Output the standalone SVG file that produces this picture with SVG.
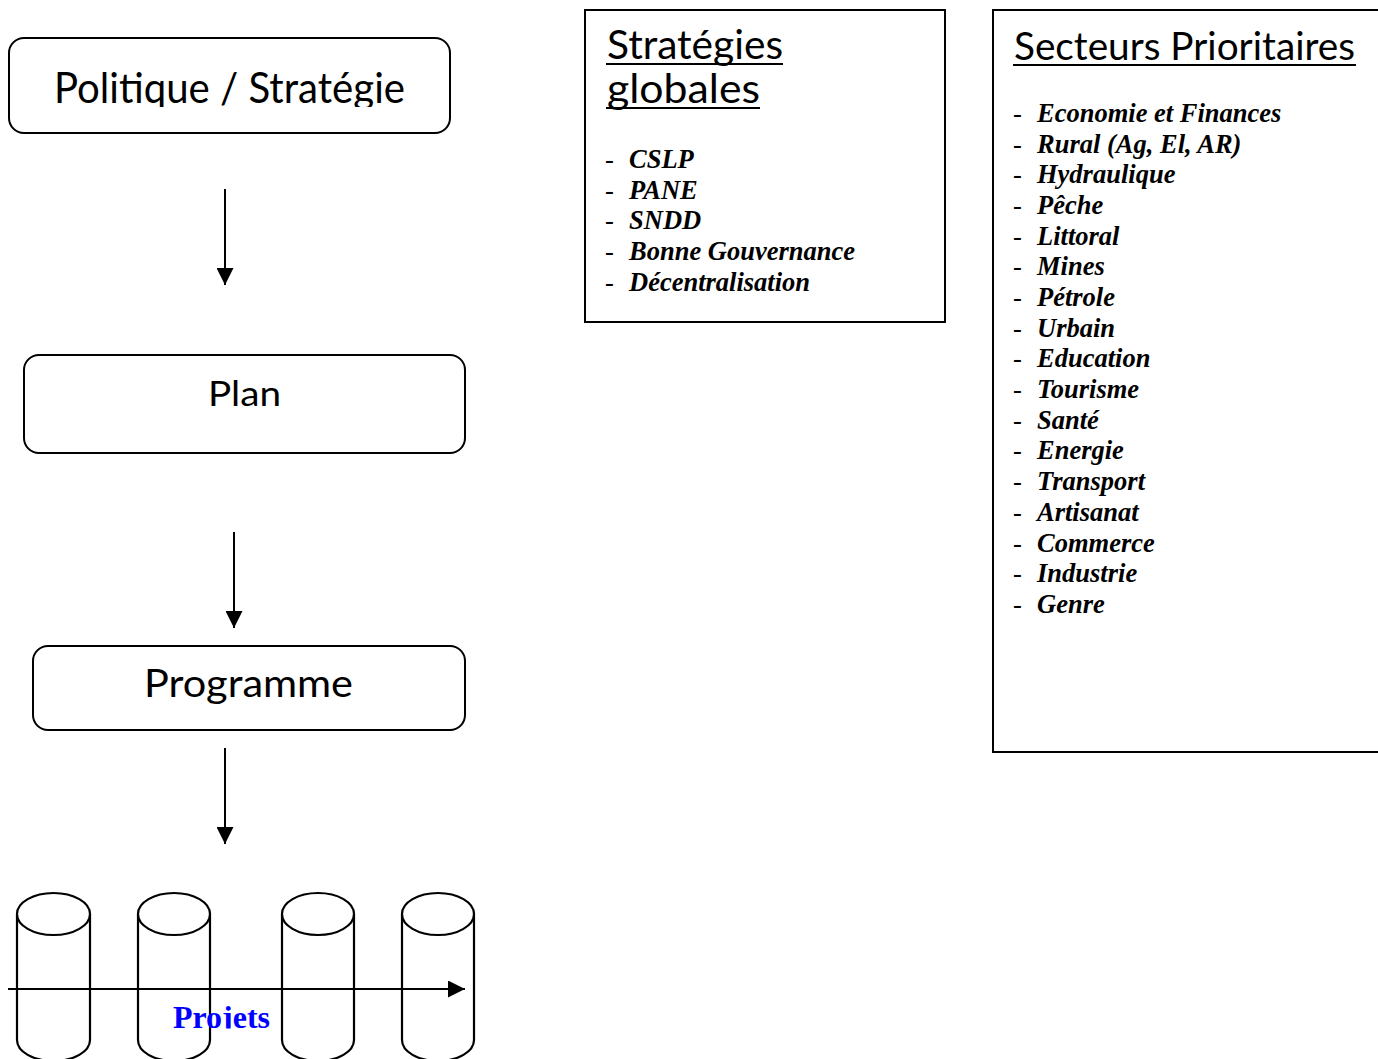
<svg xmlns="http://www.w3.org/2000/svg" width="1378" height="1059" viewBox="0 0 1378 1059">
<style>
.box{fill:#fff;stroke:#000;stroke-width:2}
.title{font-family:Lato,"Open Sans","DejaVu Sans",sans-serif;fill:#000}
.item{font-family:"Liberation Serif","Times New Roman",serif;font-weight:bold;font-style:italic;font-size:26.5px;fill:#000}
.dash{font-family:"Liberation Serif","Times New Roman",serif;font-size:26.5px;fill:#000}
.conn{stroke:#000;stroke-width:2;fill:none}
.cyl{stroke:#000;stroke-width:2.2;fill:none}
</style>
<defs>
<marker id="ah" viewBox="0 0 17 17" refX="17" refY="8.5" markerWidth="17" markerHeight="17" markerUnits="userSpaceOnUse" orient="auto">
<path d="M0,0 L17,8.5 L0,17 Z" fill="#000"/>
</marker>
<clipPath id="clipPol"><rect x="0" y="40" width="460" height="67"/></clipPath>
<clipPath id="clipProj"><rect x="150" y="990" width="150" height="38.5"/></clipPath>
</defs>
<rect width="1378" height="1059" fill="#fff"/>

<g id="node-politique">
<rect class="box" x="9" y="38" width="441" height="95" rx="15"/>
<text class="title" x="54" y="103" font-size="43" textLength="351" lengthAdjust="spacingAndGlyphs" clip-path="url(#clipPol)">Politique / Stratégie</text>
</g>

<g id="node-plan">
<rect class="box" x="24" y="355" width="441" height="98" rx="15"/>
<text class="title" x="208" y="406" font-size="35" textLength="73" lengthAdjust="spacingAndGlyphs">Plan</text>
</g>

<g id="node-programme">
<rect class="box" x="33" y="646" width="432" height="84" rx="15"/>
<text class="title" x="144" y="697" font-size="39" textLength="209" lengthAdjust="spacingAndGlyphs">Programme</text>
</g>

<g id="node-projets">
<g class="cyl">
<path d="M17,914 A36.5,21 0 0 1 90,914 A36.5,21 0 0 1 17,914 Z M17,914 V1040 A36.5,21 0 0 0 90,1040 V914"/>
<path d="M138,914 A36,21 0 0 1 210,914 A36,21 0 0 1 138,914 Z M138,914 V1040 A36,21 0 0 0 210,1040 V914"/>
<path d="M282,914 A36,21 0 0 1 354,914 A36,21 0 0 1 282,914 Z M282,914 V1040 A36,21 0 0 0 354,1040 V914"/>
<path d="M402,914 A36,21 0 0 1 474,914 A36,21 0 0 1 402,914 Z M402,914 V1040 A36,21 0 0 0 474,1040 V914"/>
</g>
<text x="173" y="1028" font-family="'Liberation Serif','Times New Roman',serif" font-weight="bold" font-size="32" fill="#0000FF" textLength="97" lengthAdjust="spacingAndGlyphs" clip-path="url(#clipProj)">Projets</text>
</g>

<g id="node-strategies">
<rect x="585" y="10" width="360" height="312" fill="#fff" stroke="#000" stroke-width="2"/>
<text class="title" x="607" y="59" font-size="40" textLength="176" lengthAdjust="spacingAndGlyphs">Stratégies</text>
<line x1="606" y1="64" x2="783" y2="64" stroke="#000" stroke-width="2"/>
<text class="title" x="607" y="103" font-size="40" textLength="153" lengthAdjust="spacingAndGlyphs">globales</text>
<line x1="606" y1="108" x2="760" y2="108" stroke="#000" stroke-width="2"/>
<g>
<text class="dash" x="605" y="168">-</text><text class="item" x="629" y="168">CSLP</text>
<text class="dash" x="605" y="199">-</text><text class="item" x="629" y="199">PANE</text>
<text class="dash" x="605" y="229">-</text><text class="item" x="629" y="229">SNDD</text>
<text class="dash" x="605" y="260">-</text><text class="item" x="629" y="260">Bonne Gouvernance</text>
<text class="dash" x="605" y="291">-</text><text class="item" x="629" y="291">Décentralisation</text>
</g>
</g>

<g id="node-secteurs">
<rect x="993" y="10" width="400" height="742" fill="#fff" stroke="#000" stroke-width="2"/>
<text class="title" x="1014" y="60" font-size="39" textLength="341" lengthAdjust="spacingAndGlyphs">Secteurs Prioritaires</text>
<line x1="1013" y1="65" x2="1356" y2="65" stroke="#000" stroke-width="2"/>
<g>
<text class="dash" x="1013" y="122">-</text><text class="item" x="1037" y="122">Economie et Finances</text>
<text class="dash" x="1013" y="153">-</text><text class="item" x="1037" y="153">Rural (Ag, El, AR)</text>
<text class="dash" x="1013" y="183">-</text><text class="item" x="1037" y="183">Hydraulique</text>
<text class="dash" x="1013" y="214">-</text><text class="item" x="1037" y="214">Pêche</text>
<text class="dash" x="1013" y="245">-</text><text class="item" x="1037" y="245">Littoral</text>
<text class="dash" x="1013" y="275">-</text><text class="item" x="1037" y="275">Mines</text>
<text class="dash" x="1013" y="306">-</text><text class="item" x="1037" y="306">Pétrole</text>
<text class="dash" x="1013" y="337">-</text><text class="item" x="1037" y="337">Urbain</text>
<text class="dash" x="1013" y="367">-</text><text class="item" x="1037" y="367">Education</text>
<text class="dash" x="1013" y="398">-</text><text class="item" x="1037" y="398">Tourisme</text>
<text class="dash" x="1013" y="429">-</text><text class="item" x="1037" y="429">Santé</text>
<text class="dash" x="1013" y="459">-</text><text class="item" x="1037" y="459">Energie</text>
<text class="dash" x="1013" y="490">-</text><text class="item" x="1037" y="490">Transport</text>
<text class="dash" x="1013" y="521">-</text><text class="item" x="1037" y="521">Artisanat</text>
<text class="dash" x="1013" y="552">-</text><text class="item" x="1037" y="552">Commerce</text>
<text class="dash" x="1013" y="582">-</text><text class="item" x="1037" y="582">Industrie</text>
<text class="dash" x="1013" y="613">-</text><text class="item" x="1037" y="613">Genre</text>
</g>
</g>

<g id="connectors">
<line class="conn" x1="225" y1="189" x2="225" y2="285" marker-end="url(#ah)"/>
<line class="conn" x1="234" y1="532" x2="234" y2="628" marker-end="url(#ah)"/>
<line class="conn" x1="225" y1="748" x2="225" y2="844" marker-end="url(#ah)"/>
<line class="conn" x1="8" y1="989" x2="465" y2="989" marker-end="url(#ah)"/>
</g>
</svg>
